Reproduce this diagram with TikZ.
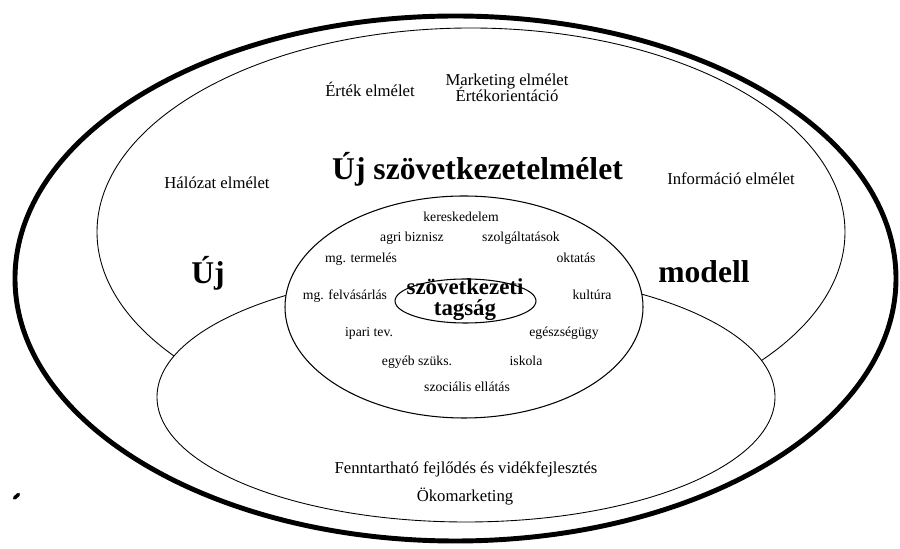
\documentclass[tikz,border=0pt]{standalone}
\usepackage{fontspec}
\setmainfont{Liberation Serif}

\begin{document}
\begin{tikzpicture}[
  smalltext/.style={font=\fontsize{7.8}{9}\selectfont, anchor=base, inner sep=0pt},
  midtext/.style={font=\fontsize{9.5}{11}\selectfont, anchor=base, inner sep=0pt},
  bigtext/.style={font=\bfseries\fontsize{18}{21}\selectfont, anchor=base, inner sep=0pt},
  coretext/.style={font=\bfseries\fontsize{13}{15}\selectfont, anchor=base, inner sep=0pt},
  ring/.style={line width=0.5pt, fill=white}
]
  \useasboundingbox (0,0) rectangle (18,-10.98);
  % Draw ellipses
  \draw[line width=2.8pt] (9.11,-5.57) ellipse [x radius=8.81, y radius=5.25];
  \draw[line width=0.5pt] (9.42,-4.64) ellipse [x radius=7.48, y radius=4.08];
  \draw[ring] (9.32,-7.94) ellipse [x radius=6.18, y radius=2.50];
  \draw[ring, line width=0.6pt] (9.28,-6.14) ellipse [x radius=3.58, y radius=2.22];
  \draw[ring, line width=0.6pt] (9.31,-6.02) ellipse [x radius=1.41, y radius=0.44];
  \draw[line width=2pt, line cap=round] (0.29,-9.96)--(0.37,-9.89);
  % Draw theory labels
  \node[midtext] (ertek) at (7.40,-1.94) {Érték elmélet};
  \node[midtext, align=center] (marketing) at (10.14,-2.04) {Marketing elmélet\\[-1.5pt]Értékorientáció};
  \node[bigtext] (ujelm) at (9.55,-3.60) {Új szövetkezetelmélet};
  \node[midtext] (halozat) at (4.34,-3.78) {Hálózat elmélet};
  \node[midtext] (info) at (14.62,-3.70) {Információ elmélet};
  \node[bigtext] (uj) at (4.16,-5.68) {Új};
  \node[bigtext] (modell) at (14.08,-5.66) {modell};
  % Draw activity labels
  \node[smalltext] (keresk) at (9.22,-4.44) {kereskedelem};
  \node[smalltext] (agri) at (8.24,-4.84) {agri biznisz};
  \node[smalltext] (szolg) at (10.42,-4.84) {szolgáltatások};
  \node[smalltext] (termel) at (7.22,-5.26) {mg. termelés};
  \node[smalltext] (oktat) at (11.52,-5.26) {oktatás};
  \node[smalltext] (felvas) at (6.90,-6.00) {mg. felvásárlás};
  \node[smalltext] (kultura) at (11.84,-6.00) {kultúra};
  \node[smalltext] (ipari) at (7.38,-6.74) {ipari tev.};
  \node[smalltext] (egeszseg) at (11.28,-6.74) {egészségügy};
  \node[smalltext] (egyeb) at (8.34,-7.32) {egyéb szüks.};
  \node[smalltext] (iskola) at (10.52,-7.32) {iskola};
  \node[smalltext] (szocialis) at (9.34,-7.84) {szociális ellátás};
  % Draw core
  \node[coretext, align=center] (tagsag) at (9.30,-6.32) {szövetkezeti\\[-2.5pt]tagság};
  % Draw bottom labels
  \node[midtext] (fennt) at (9.32,-9.48) {Fenntartható fejlődés és vidékfejlesztés};
  \node[midtext] (oko) at (9.30,-10.04) {Ökomarketing};
\end{tikzpicture}
\end{document}
